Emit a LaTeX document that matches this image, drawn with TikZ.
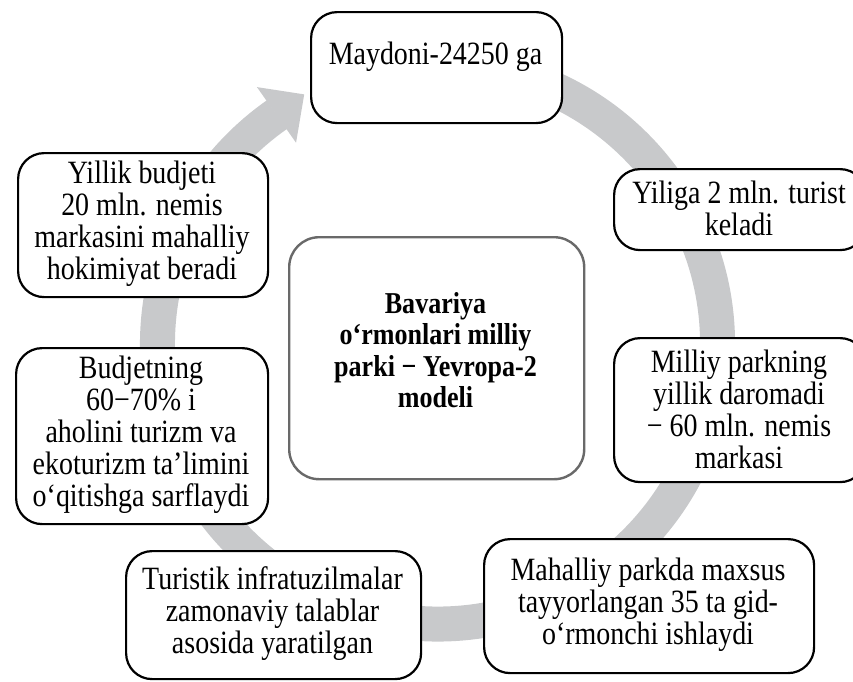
\documentclass[tikz,border=0pt]{standalone}
\usepackage{fontspec}
\setmainfont{Liberation Serif}[FakeStretch=0.86]
\definecolor{ringgray}{RGB}{200,201,203}
\definecolor{cgray}{RGB}{105,105,105}
\begin{document}
\begin{tikzpicture}[x=1pt,y=-1pt,
  box/.style={draw=black, line width=2.2pt, rounded corners=26pt, fill=white, inner sep=0pt},
  cbox/.style={draw=cgray, line width=2.4pt, rounded corners=30pt, fill=white, inner sep=0pt},
  txt/.style={align=center, font=\fontsize{32.5}{32}\selectfont, inner sep=0pt},
  btxt/.style={align=center, font=\bfseries\fontsize{30.3}{31.5}\selectfont, inner sep=0pt},
  ring/.style={draw=ringgray, line width=35pt}]
\useasboundingbox (0,0) rectangle (853,681);
% ring with arrow head
\coordinate (c) at (437.5,344);
\draw[ring] (c) ++(-80:280) arc[start angle=-80, end angle=235, radius=280];
\path (c) ++(234.9:246) coordinate (h1);
\path (c) ++(234.9:314) coordinate (h2);
\path (c) ++(241.9:283) coordinate (h3);
\fill[ringgray] (h1) -- (h2) -- (h3) -- cycle;
% boxes
\node[box, anchor=north west, minimum width=251pt, minimum height=111pt] (b1) at (310,11) {};
\node[box, anchor=north west, minimum width=252pt, minimum height=81pt] (b2) at (613,168) {};
\node[box, anchor=north west, minimum width=252pt, minimum height=144pt] (b3) at (613,337) {};
\node[box, anchor=north west, minimum width=330pt, minimum height=134pt] (b4) at (483,538) {};
\node[box, anchor=north west, minimum width=295pt, minimum height=128pt] (b5) at (125,550) {};
\node[box, anchor=north west, minimum width=252pt, minimum height=176pt] (b6) at (15,347) {};
\node[box, anchor=north west, minimum width=250pt, minimum height=144pt] (b7) at (17,152) {};
\node[cbox, anchor=north west, minimum width=295pt, minimum height=242pt] (bc) at (288,236) {};
% texts
\node[txt] (t1) at (435.5,57) {Maydoni-24250 ga};
\node[txt] (t2) at (739,208.5) {Yiliga 2 mln. turist\\keladi};
\node[txt] (t3) at (739,409) {Milliy parkning\\yillik daromadi\\− 60 mln. nemis\\markasi};
\node[txt] (t4) at (648,605) {Mahalliy parkda maxsus\\tayyorlangan 35 ta gid-\\o‘rmonchi ishlaydi};
\node[txt] (t5) at (272.5,614) {Turistik infratuzilmalar\\zamonaviy talablar\\asosida yaratilgan};
\node[txt] (t6) at (141,435) {Budjetning\\60−70\% i\\aholini turizm va\\ekoturizm ta’limini\\o‘qitishga sarflaydi};
\node[txt] (t7) at (142,224) {Yillik budjeti\\20 mln. nemis\\markasini mahalliy\\hokimiyat beradi};
\node[btxt] (tc) at (435.5,350) {Bavariya\\o‘rmonlari milliy\\parki − Yevropa-2\\modeli};
\end{tikzpicture}
\end{document}
